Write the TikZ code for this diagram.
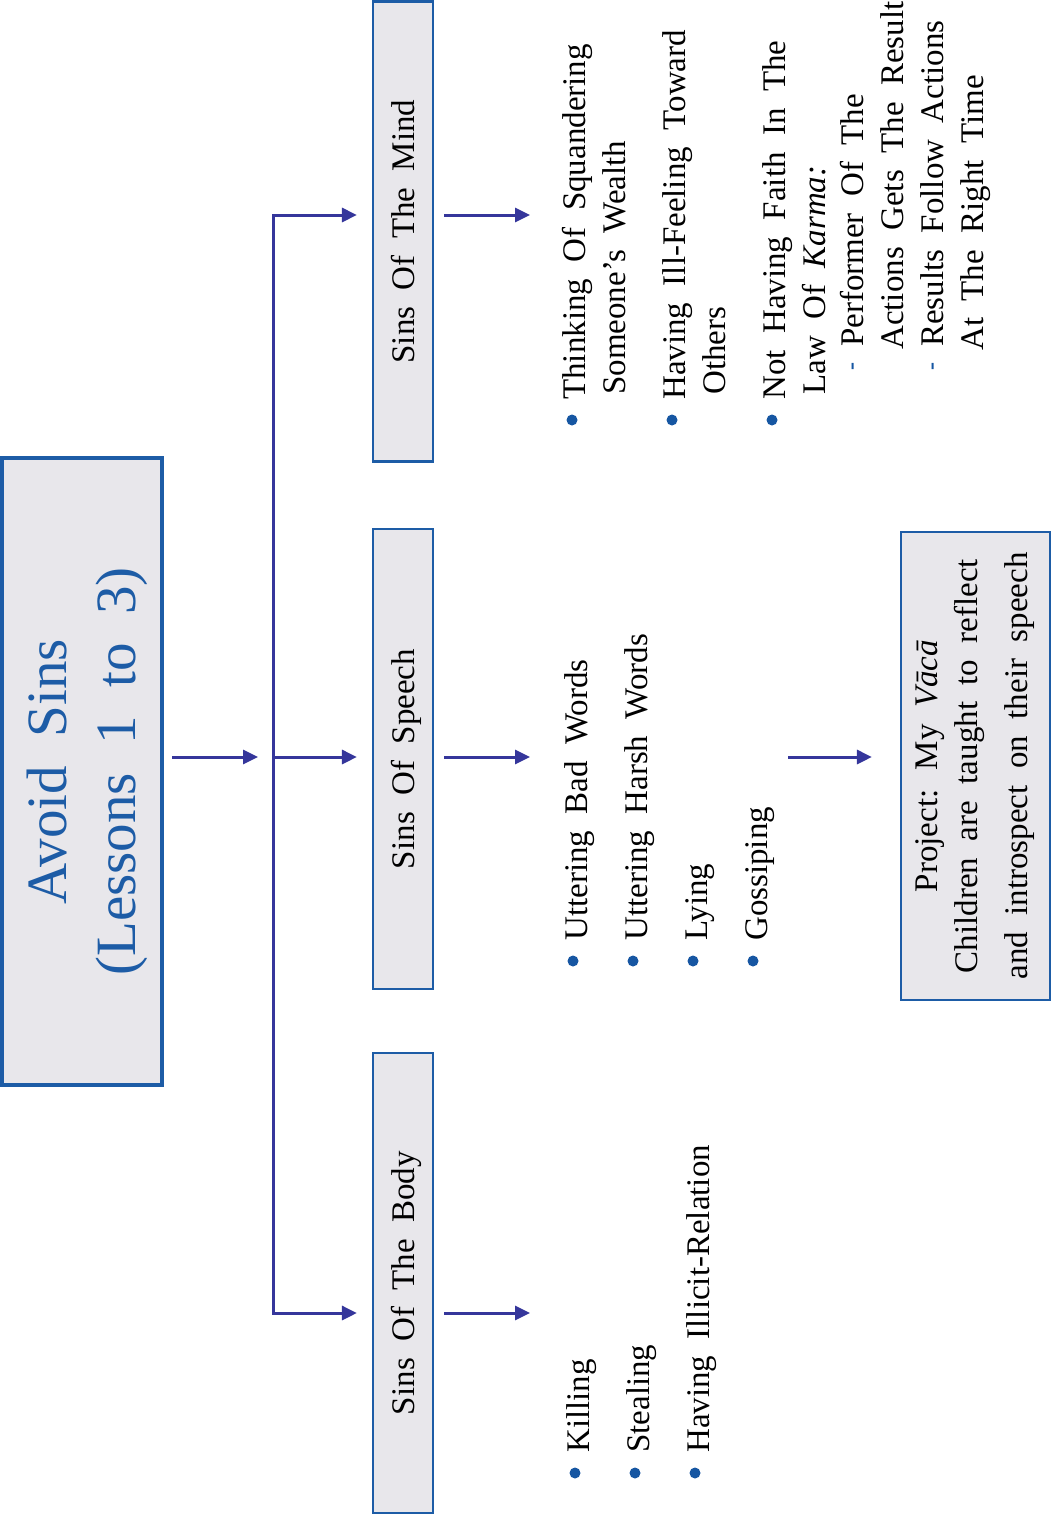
\documentclass[tikz,border=0pt]{standalone}
\usepackage{fontspec}
\setmainfont{Liberation Serif}
\usetikzlibrary{arrows.meta,positioning,calc}
\definecolor{boxblue}{HTML}{1D5CA6}
\definecolor{boxfill}{HTML}{E8E7EB}
\definecolor{arrowblue}{HTML}{35369B}
\definecolor{dotblue}{HTML}{1656A2}
\newcommand{\listfont}{\fontsize{33}{40}\selectfont\spaceskip=.5em\relax}
\newcommand{\headfont}{\fontsize{57}{69}\selectfont\spaceskip=.5em\relax}
\tikzset{
    sinbox/.style={draw=boxblue,fill=boxfill,line width=2.2pt,rotate=90,
      minimum width=460pt,minimum height=60pt,inner sep=0pt,
      text height=23pt,text depth=0pt,font=\listfont},
    titlebox/.style={draw=boxblue,fill=boxfill,line width=4.5pt,rotate=90,
      minimum width=627pt,minimum height=160pt,inner sep=0pt,
      text=boxblue,align=center,font=\headfont},
    projbox/.style={draw=boxblue,fill=boxfill,line width=2.2pt,rotate=90,
      minimum width=468pt,minimum height=149pt,inner sep=0pt,
      align=center,font=\listfont},
    itemline/.style={rotate=90,anchor=base west,inner sep=0pt,font=\listfont},
    listdot/.style={circle,fill=dotblue,minimum size=11pt,inner sep=0pt},
    subdash/.style={rotate=90,inner sep=0pt,text=dotblue,
      font=\fontsize{24}{24}\selectfont\bfseries},
    flowarrow/.style={-{Triangle[length=15pt,width=14pt]},draw=arrowblue,
      line width=3pt,line join=miter}
}
\begin{document}
\begin{tikzpicture}[x=1pt,y=-1pt]
  \useasboundingbox (0,0) rectangle (1052,1515);
  % boxes
  \node[titlebox] (title) at (82,771.5) {\rule{0pt}{51pt}Avoid Sins\\(Lessons 1 to 3)};
  \node[sinbox] (mind) at (403,231.5) {Sins Of The Mind};
  \node[sinbox] (speech) at (403,759) {Sins Of Speech};
  \node[sinbox] (body) at (403,1283) {Sins Of The Body};
  \node[projbox] (project) at (975.5,766)
    {Project: My \textit{Vācā}\\Children are taught to reflect\\[10pt]and introspect on their speech};
  % arrows
  \coordinate (hub) at (273,757);
  \coordinate (mindEnd) at (530,215);
  \coordinate (speechEnd) at (530,757);
  \coordinate (bodyEnd) at (530,1313);
  \coordinate (projStart) at (788,757);
  \draw[flowarrow] ($(title.south |- hub)+(8,0)$) -- ($(hub)+(-15,0)$);
  \draw[flowarrow] (hub) |- ($(mind.north |- mindEnd)+(-15,0)$);
  \draw[flowarrow] (hub) -- ($(speech.north |- speechEnd)+(-15,0)$);
  \draw[flowarrow] (hub) |- ($(body.north |- bodyEnd)+(-15,0)$);
  \draw[flowarrow] ($(mind.south |- mindEnd)+(10,0)$) -- (mindEnd);
  \draw[flowarrow] ($(speech.south |- speechEnd)+(10,0)$) -- (speechEnd);
  \draw[flowarrow] ($(body.south |- bodyEnd)+(10,0)$) -- (bodyEnd);
  \draw[flowarrow] (projStart) -- ($(project.north |- projStart)+(-28,0)$);
  % lists
  \foreach \txt/\bx/\sy [count=\i] in {Thinking Of Squandering/585/400,
      Someone’s Wealth/625/395, Having Ill-Feeling Toward/685/400,
      Others/725/395, Not Having Faith In The/785/400,
      Law Of \textit{Karma:}/825/395, Performer Of The/863/347,
      Actions Gets The Result/903/350, Results Follow Actions/943/347,
      At The Right Time/983/351}
    \node[itemline] (mind\i) at (\bx,\sy) {\txt};
  \foreach \txt/\bx [count=\i] in {Uttering Bad Words/587, Uttering Harsh Words/647,
      Lying/707, Gossiping/767}
    \node[itemline] (speech\i) at (\bx,941) {\txt};
  \foreach \txt/\bx [count=\i] in {Killing/589, Stealing/649,
      Having Illicit-Relation/709}
    \node[itemline] (body\i) at (\bx,1453) {\txt};
  \foreach \bx [count=\i] in {572,672,772}
    \node[listdot] (mdot\i) at (\bx,420) {};
  \foreach \bx [count=\i] in {573,633,693,753}
    \node[listdot] (sdot\i) at (\bx,961) {};
  \foreach \bx [count=\i] in {575,635,695}
    \node[listdot] (bdot\i) at (\bx,1473) {};
  \node[subdash] (dash1) at (855,366) {-};
  \node[subdash] (dash2) at (935,366) {-};
\end{tikzpicture}
\end{document}
